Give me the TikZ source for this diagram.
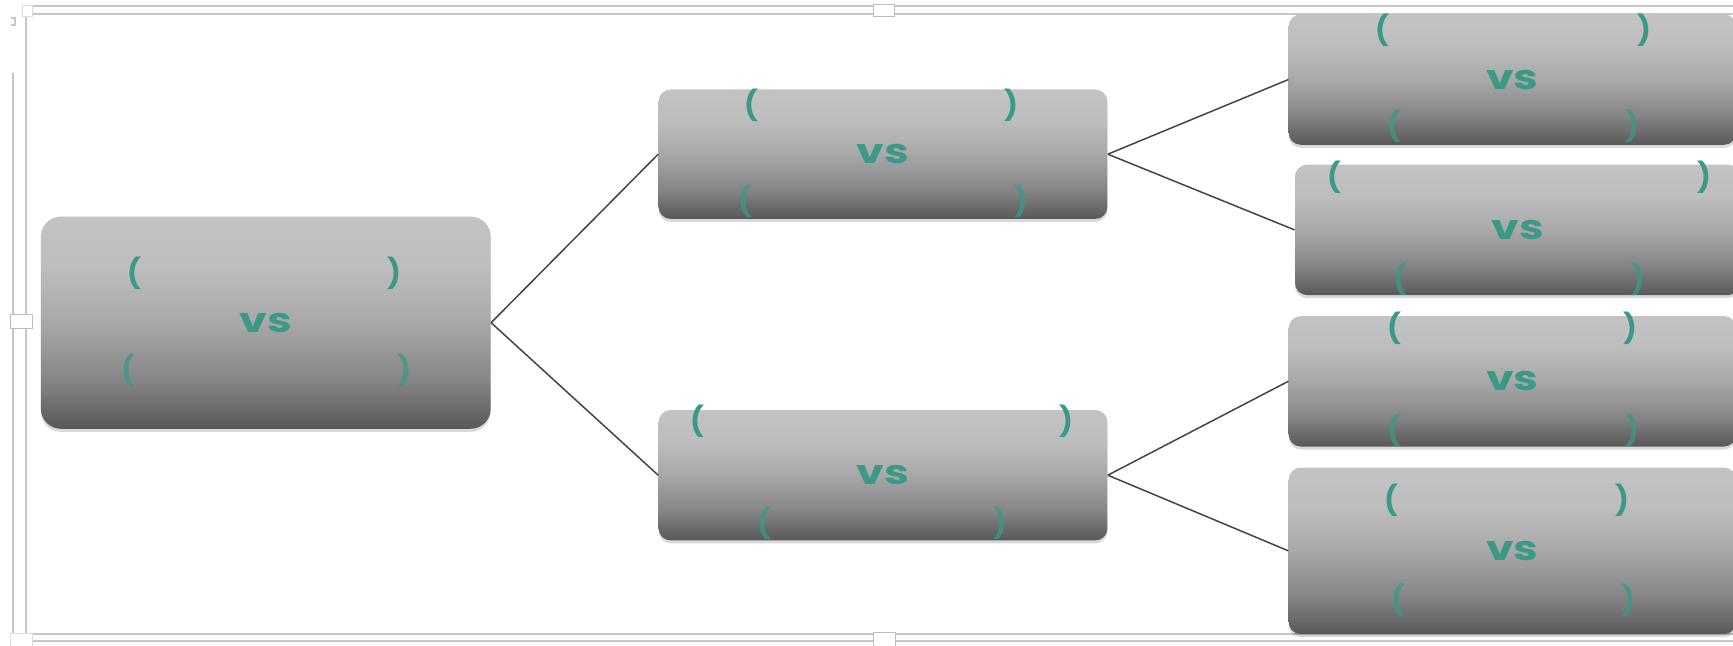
\documentclass[tikz,border=0pt]{standalone}
\usepackage{fontspec}
\usepackage{graphicx}
\setmainfont{Poppins}
\usetikzlibrary{shadows}
\definecolor{teal1}{HTML}{3A9A86}
\definecolor{framec}{HTML}{C6C6C6}
\definecolor{frameD}{HTML}{BDBDBD}
\definecolor{linec}{HTML}{444444}
\definecolor{bbot}{HTML}{585858}
\definecolor{blow}{HTML}{848484}
\definecolor{bmid}{HTML}{A8A8A8}
\definecolor{bup}{HTML}{BDBDBD}
\definecolor{btop}{HTML}{C3C3C3}
\pgfdeclareverticalshading{boxshade}{100bp}{color(0bp)=(bbot); color(25bp)=(bbot); color(36bp)=(blow); color(50bp)=(bmid); color(63bp)=(bup); color(75bp)=(btop); color(100bp)=(btop)}
\tikzset{
  gbox/.style={shading=boxshade, rounded corners=#1, inner sep=0pt,
    drop shadow={opacity=0.15, shadow xshift=0pt, shadow yshift=-1.5pt, fill=black},
    font=\fontsize{17}{17}\selectfont\bfseries, text=teal1},
  gbox/.default=6pt,
  ub/.style={inner sep=0pt, text=teal1, font=\fontsize{14.5}{14.5}\selectfont\bfseries},
  lb/.style={ub, text opacity=0.75},
  conn/.style={draw=linec, line width=0.75pt},
  fline/.style={draw=framec, line width=1pt},
  handle/.style={draw=frameD, fill=white, line width=0.5pt},
  corner/.style={fill=white, draw=framec!60, line width=0.4pt}
}
\newcommand\vsx{\scalebox{1.3}[1]{vs}}
\begin{document}
\begin{tikzpicture}[x=0.5pt, y=-0.5pt]
\useasboundingbox (0,0) rectangle (1733,646);
\clip (0,0) rectangle (1733,646);
% frame
\draw[fline] (32,6) -- (1733,6);
\draw[fline] (32,14) -- (1733,14);
\draw[fline] (32,634) -- (1733,634);
\draw[fline] (32,641) -- (1733,641);
\draw[fline] (13,73) -- (13,633);
\draw[fline] (26,17) -- (26,633);
\draw[fline] (11,18) -- (15,18) -- (15,25) -- (11,25);
\draw[corner] (22,5) rectangle (32,16);
\draw[handle] (10,315) rectangle (32,329);
\draw[handle] (873,5) rectangle (894,17);
\draw[handle] (873,632) rectangle (895,646);
\draw[corner] (10,633) rectangle (32,646);
% boxes
\node[gbox=10pt, minimum width=224.9pt, minimum height=106.1pt] (root) at (265.8,322.7) {\vsx};
\node[gbox, minimum width=224.4pt, minimum height=64.7pt] (m1) at (883,154.2) {\vsx};
\node[gbox, minimum width=224.4pt, minimum height=65.2pt] (m2) at (883,475.2) {\vsx};
\node[gbox, minimum width=223.7pt, minimum height=65.2pt] (r1) at (1512.4,79.6) {\vsx};
\node[gbox, minimum width=222.5pt, minimum height=65.2pt] (r2) at (1517.5,229.9) {\vsx};
\node[gbox, minimum width=223.7pt, minimum height=65.2pt] (r3) at (1512.4,381.3) {\vsx};
\node[gbox, minimum width=223.7pt, minimum height=83.3pt] (r4) at (1512.4,550.8) {\vsx};
% brackets
\node[ub] (root-a) at (134.8,273) {(};
\node[ub] (root-b) at (394.6,273) {)};
\node[lb] (root-c) at (128.2,370) {(};
\node[lb] (root-d) at (404.5,370) {)};
\node[ub] (m1-a) at (751.5,105) {(};
\node[ub] (m1-b) at (1011,105) {)};
\node[lb] (m1-c) at (745,201) {(};
\node[lb] (m1-d) at (1021,201) {)};
\node[ub] (m2-a) at (697.4,421.5) {(};
\node[ub] (m2-b) at (1066.5,421.5) {)};
\node[lb] (m2-c) at (764.8,523) {(};
\node[lb] (m2-d) at (1000,523) {)};
\node[ub] (r1-a) at (1382.6,30) {(};
\node[ub] (r1-b) at (1644.5,30) {)};
\node[lb] (r1-c) at (1394.8,126) {(};
\node[lb] (r1-d) at (1632.4,126) {)};
\node[ub] (r2-a) at (1334,177.5) {(};
\node[ub] (r2-b) at (1704.2,177.5) {)};
\node[lb] (r2-c) at (1400.3,279) {(};
\node[lb] (r2-d) at (1638,279) {)};
\node[ub] (r3-a) at (1394.8,328) {(};
\node[ub] (r3-b) at (1630,328) {)};
\node[lb] (r3-c) at (1394.8,430) {(};
\node[lb] (r3-d) at (1632.4,430) {)};
\node[ub] (r4-a) at (1391.4,500) {(};
\node[ub] (r4-b) at (1622.4,500) {)};
\node[lb] (r4-c) at (1398,600) {(};
\node[lb] (r4-d) at (1628,600) {)};
% connectors
\draw[conn] (root.east) -- (m1.west);
\draw[conn] (root.east) -- (m2.west);
\draw[conn] (m1.east) -- (r1.west);
\draw[conn] (m1.east) -- (r2.west);
\draw[conn] (m2.east) -- (r3.west);
\draw[conn] (m2.east) -- (r4.west);
\end{tikzpicture}
\end{document}
